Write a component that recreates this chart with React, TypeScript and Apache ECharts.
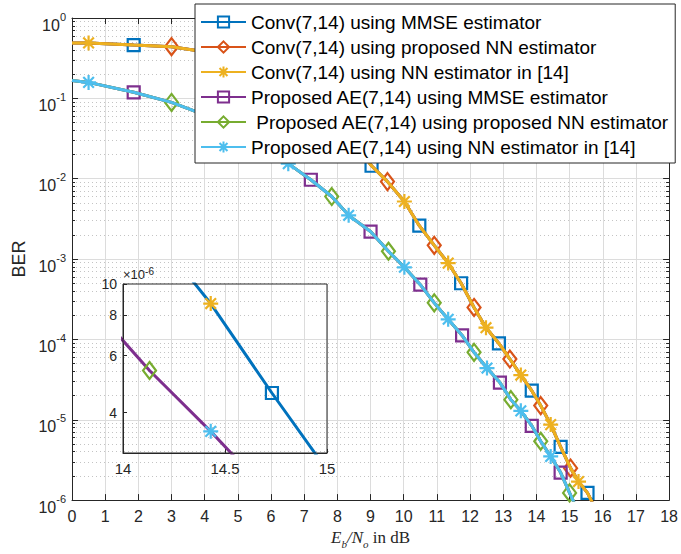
import React, { useEffect, useRef } from "react";
import * as echarts from "echarts";

// Eb/No grid (dB) and BER for the conventional (7,14) system
const convEbNo = [0, 0.5, 1.86, 3.0, 4.0, 4.8, 5.6, 6.4, 7.1, 7.8, 8.45, 9.03, 9.51, 10.02, 10.47, 10.92, 11.34, 11.73, 12.12, 12.48, 12.87, 13.2, 13.53, 13.86, 14.13, 14.43, 14.73, 15.03, 15.27, 15.54, 15.8];
const convBer = [0.49, 0.49, 0.46, 0.44, 0.38, 0.32, 0.24, 0.16, 0.1, 0.057, 0.03, 0.0145, 9.2e-3, 5.2e-3, 2.6e-3, 1.48e-3, 8.9e-4, 5.0e-4, 2.5e-4, 1.4e-4, 8.9e-5, 5.7e-5, 3.6e-5, 2.3e-5, 1.5e-5, 8.7e-6, 4.6e-6, 2.5e-6, 1.7e-6, 1.23e-6, 7.5e-7];

// Eb/No grid (dB) and BER for the proposed AE(7,14) system
const aeEbNo = [0, 0.5, 1.86, 3.0, 4.2, 5.2, 5.9, 6.52, 7.2, 7.83, 8.34, 9.0, 9.54, 10.02, 10.5, 10.92, 11.34, 11.76, 12.12, 12.51, 12.9, 13.23, 13.53, 13.86, 14.13, 14.43, 14.73, 15.0, 15.15];
const aeBer = [0.167, 0.158, 0.119, 0.089, 0.058, 0.036, 0.024, 0.0154, 9.7e-3, 6.0e-3, 3.5e-3, 2.2e-3, 1.25e-3, 7.9e-4, 4.8e-4, 2.85e-4, 1.78e-4, 1.12e-4, 6.9e-5, 4.4e-5, 2.9e-5, 1.78e-5, 1.29e-5, 8.4e-6, 5.4e-6, 3.5e-6, 2.2e-6, 1.23e-6, 9e-7];

const seriesNames = [
  "Conv(7,14) using MMSE estimator",
  "Conv(7,14) using proposed NN estimator",
  "Conv(7,14) using NN estimator in [14]",
  "Proposed AE(7,14) using MMSE estimator",
  " Proposed AE(7,14) using proposed NN estimator",
  "Proposed AE(7,14) using NN estimator in [14]",
];

const xTicks = { min: 0, max: 18, interval: 1 };
const insetX = { min: 14, max: 15, interval: 0.5 };
const insetYTicks = [4, 6, 8, 10]; // in units of 1e-6
const insetYMin = 3;

const SANS = "Liberation Sans, Arial, Helvetica, sans-serif";
const SERIF = "Liberation Serif, Times New Roman, serif";
const AXIS = "#262626";
const GRID = "#dcdcdc";
const MINOR = "#c4c4c4";

const ASTERISK = "path://M0,-10L0,10M-10,0L10,0M-7.07,-7.07L7.07,7.07M-7.07,7.07L7.07,-7.07";
const MARKERS: Record<string, { symbol: string; size: number | number[] }> = {
  square: { symbol: "rect", size: 12 },
  diamond: { symbol: "diamond", size: [13, 17] },
  star: { symbol: ASTERISK, size: 15 },
};

// marker phase: index 1 = star, 2 = square, 3 = diamond, repeating
const defs = [
  { x: convEbNo, y: convBer, color: "#0072BD", marker: "square", phase: 1 },
  { x: convEbNo, y: convBer, color: "#D95319", marker: "diamond", phase: 2 },
  { x: convEbNo, y: convBer, color: "#EDB120", marker: "star", phase: 0 },
  { x: aeEbNo, y: aeBer, color: "#7E2F8E", marker: "square", phase: 1 },
  { x: aeEbNo, y: aeBer, color: "#77AC30", marker: "diamond", phase: 2 },
  { x: aeEbNo, y: aeBer, color: "#4DBEEE", marker: "star", phase: 0 },
];

function points(d: (typeof defs)[number], transform: (v: number) => number) {
  const n = d.x.length;
  return d.x.map((xv, i) => {
    const marked = i >= 1 && i <= n - 2 && (i - 1) % 3 === d.phase;
    return marked
      ? { value: [xv, transform(d.y[i])] }
      : { value: [xv, transform(d.y[i])], symbol: "none" };
  });
}

function buildSeries(d: (typeof defs)[number], name: string, idx: number, inset: boolean, showLine: boolean) {
  const m = MARKERS[d.marker];
  return {
    type: "line",
    name,
    xAxisIndex: inset ? 2 : 0,
    yAxisIndex: inset ? 2 : 0,
    data: points(d, inset ? (v) => Math.log10(v * 1e6) : (v) => v),
    symbol: m.symbol,
    symbolSize: m.size,
    symbolKeepAspect: true,
    showAllSymbol: true,
    clip: true,
    lineStyle: { color: d.color, width: showLine ? 3 : 0, opacity: showLine ? 1 : 0 },
    itemStyle: { color: "rgba(255,255,255,0)", borderColor: d.color, borderWidth: 2.2 },
    emphasis: { disabled: true },
    z: 2 + idx * 0.01,
  };
}

const supRich = {
  b: { fontSize: 16, lineHeight: 22, verticalAlign: "bottom", fontFamily: SANS, color: AXIS },
  s: { fontSize: 11, lineHeight: 11, verticalAlign: "top", fontFamily: SANS, color: AXIS },
};

function buildOption() {
  const mainSeries = defs.map((d, i) => buildSeries(d, seriesNames[i], i, false, true));
  const insetOrder = [0, 3, 1, 2, 4, 5];
  const insetSeries = insetOrder.map((i) =>
    buildSeries(defs[i], seriesNames[i], i, true, i === 0 || i === 3)
  );
  const insetCustom = insetYTicks.map((v) => Math.log10(v));

  return {
    animation: false,
    backgroundColor: "#fff",
    textStyle: { fontFamily: SANS },
    grid: [
      { left: 72, right: 9, top: 18, bottom: 50, containLabel: false },
      { left: 123, top: 284, width: 204, height: 169, show: true, borderColor: AXIS, borderWidth: 1, backgroundColor: "rgba(0,0,0,0)", z: 3 },
    ],
    legend: {
      orient: "vertical",
      left: 195,
      top: 4,
      data: seriesNames,
      itemWidth: 45,
      itemHeight: 14,
      itemGap: 5,
      padding: [8, 6, 6, 5],
      backgroundColor: "#fff",
      borderColor: AXIS,
      borderWidth: 1,
      borderRadius: 0,
      selectedMode: false,
      textStyle: { fontSize: 19, lineHeight: 20, color: "#000", fontFamily: SANS },
      z: 10,
    },
    xAxis: [
      {
        type: "value",
        gridIndex: 0,
        position: "bottom",
        min: xTicks.min,
        max: xTicks.max,
        interval: xTicks.interval,
        axisLine: { show: true, onZero: false, lineStyle: { color: AXIS, width: 1 } },
        axisTick: { show: true, inside: true, length: 6, lineStyle: { color: AXIS } },
        axisLabel: { fontSize: 16, color: AXIS, margin: 8, fontFamily: SANS },
        splitLine: { show: true, lineStyle: { color: GRID, width: 1 } },
        name: "{i|E}{sb|b}{i|/N}{sb|o}{r| in dB}",
        nameLocation: "middle",
        nameGap: 27,
        nameTextStyle: {
          rich: {
            i: { fontFamily: SERIF, fontStyle: "italic", fontSize: 17, lineHeight: 20, verticalAlign: "top", color: AXIS },
            sb: { fontFamily: SERIF, fontStyle: "italic", fontSize: 11, lineHeight: 11, verticalAlign: "bottom", color: AXIS },
            r: { fontFamily: SERIF, fontSize: 17, lineHeight: 20, verticalAlign: "top", color: AXIS },
          },
        },
      },
      {
        type: "value",
        gridIndex: 0,
        position: "top",
        min: xTicks.min,
        max: xTicks.max,
        interval: xTicks.interval,
        axisLine: { show: true, onZero: false, lineStyle: { color: AXIS, width: 1 } },
        axisTick: { show: true, inside: true, length: 6, lineStyle: { color: AXIS } },
        axisLabel: { show: false },
        splitLine: { show: false },
      },
      {
        type: "value",
        gridIndex: 1,
        position: "bottom",
        min: insetX.min,
        max: insetX.max,
        interval: insetX.interval,
        axisLine: { show: true, onZero: false, lineStyle: { color: AXIS } },
        axisTick: { show: true, inside: true, length: 4, lineStyle: { color: AXIS } },
        axisLabel: { fontSize: 15, color: AXIS, margin: 8, fontFamily: SANS },
        splitLine: { show: true, lineStyle: { color: GRID } },
      },
    ],
    yAxis: [
      {
        type: "log",
        logBase: 10,
        gridIndex: 0,
        position: "left",
        min: 1e-6,
        max: 1,
        axisLine: { show: true, onZero: false, lineStyle: { color: AXIS, width: 1 } },
        axisTick: { show: true, inside: true, length: 6, lineStyle: { color: AXIS } },
        minorTick: { show: true, splitNumber: 9, length: 3, lineStyle: { color: AXIS } },
        axisLabel: {
          margin: 6,
          padding: [8, 0, 0, 0],
          formatter: (v: number) => `{b|10}{s|${Math.round(Math.log10(v))}}`,
          rich: supRich,
        },
        splitLine: { show: true, lineStyle: { color: GRID, width: 1 } },
        minorSplitLine: { show: true, lineStyle: { color: MINOR, width: 1, type: [1, 3] } },
        name: "BER",
        nameLocation: "middle",
        nameGap: 42,
        nameRotate: 90,
        nameTextStyle: { fontSize: 18, color: AXIS, fontFamily: SANS },
      },
      {
        type: "log",
        logBase: 10,
        gridIndex: 0,
        position: "right",
        min: 1e-6,
        max: 1,
        axisLine: { show: true, onZero: false, lineStyle: { color: AXIS, width: 1 } },
        axisTick: { show: true, inside: true, length: 6, lineStyle: { color: AXIS } },
        minorTick: { show: true, splitNumber: 9, length: 3, lineStyle: { color: AXIS } },
        axisLabel: { show: false },
        splitLine: { show: false },
      },
      {
        type: "value",
        gridIndex: 1,
        position: "left",
        min: Math.log10(insetYMin),
        max: 1,
        axisLine: { show: true, onZero: false, lineStyle: { color: AXIS } },
        axisTick: { show: true, inside: true, length: 4, customValues: insetCustom, lineStyle: { color: AXIS } },
        axisLabel: {
          customValues: insetCustom,
          fontSize: 14,
          color: AXIS,
          margin: 6,
          fontFamily: SANS,
          formatter: (v: number) => String(Math.round(Math.pow(10, v))),
        },
        splitLine: { show: false },
        name: "{m|×10}{e|-6}",
        nameLocation: "end",
        nameGap: 3,
        nameTextStyle: {
          align: "left",
          rich: {
            m: { fontSize: 13, lineHeight: 15, verticalAlign: "bottom", color: AXIS, fontFamily: SANS },
            e: { fontSize: 10, lineHeight: 10, verticalAlign: "top", color: AXIS, fontFamily: SANS },
          },
        },
      },
    ],
    series: [...mainSeries, ...insetSeries],
  };
}

export default function App() {
  const ref = useRef<HTMLDivElement>(null);
  useEffect(() => {
    if (!ref.current) return;
    const chart = echarts.init(ref.current, null, { renderer: "svg" });
    chart.setOption(buildOption() as any);
    return () => chart.dispose();
  }, []);
  return (
    <div
      ref={ref}
      style={{ position: "absolute", left: 0, top: 0, width: 681, height: 554, background: "#fff" }}
    />
  );
}
